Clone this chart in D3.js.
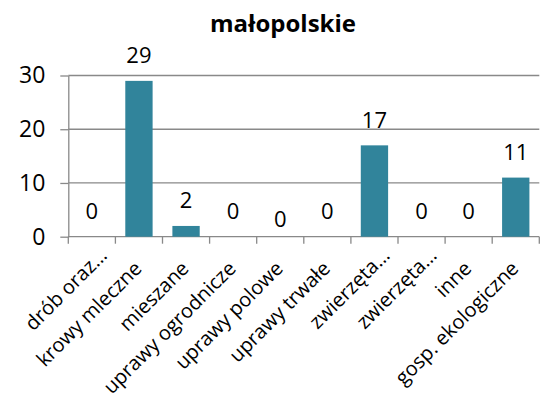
<!DOCTYPE html>
<html>
<head>
<meta charset="utf-8">
<script src="https://cdn.jsdelivr.net/npm/d3@7"></script>
<style>
  body { margin: 0; background: #fff; }
  svg { display: block; font-family: "Open Sans", sans-serif; }
</style>
</head>
<body>
<svg width="542" height="402"></svg>
<script>
const title = "małopolskie";
const categories = ["drób oraz…", "krowy mleczne", "mieszane", "uprawy ogrodnicze", "uprawy polowe",
  "uprawy trwałe", "zwierzęta…", "zwierzęta…", "inne", "gosp. ekologiczne"];
const values = [0, 29, 2, 0, 0, 0, 17, 0, 0, 11];
const yTicks = [0, 10, 20, 30];

const svg = d3.select("svg");
const plotL = 68.3, plotR = 539.3, plotT = 75.5, plotB = 236.7;
const grey = "#898989";

svg.append("rect").attr("width", 542).attr("height", 402).attr("fill", "#fff");

// band index used for scale (duplicate labels)
const x = d3.scaleBand()
  .domain(d3.range(categories.length))
  .range([plotL, plotR])
  .paddingInner(0.42)
  .paddingOuter(0.21);

const y = d3.scaleLinear().domain([0, 30]).range([plotB, plotT]);

// gridlines
svg.append("g")
  .selectAll("line")
  .data(yTicks.filter(t => t > 0))
  .join("line")
  .attr("x1", plotL).attr("x2", plotR)
  .attr("y1", d => y(d)).attr("y2", d => y(d))
  .attr("stroke", grey).attr("stroke-width", 1.3);

// y axis
const yAxis = svg.append("g")
  .attr("transform", `translate(${plotL},0)`)
  .call(d3.axisLeft(y).tickValues(yTicks).tickSize(8).tickSizeOuter(0).tickPadding(15));
yAxis.select(".domain").attr("stroke", grey).attr("stroke-width", 1.3);
yAxis.selectAll(".tick line").attr("stroke", grey).attr("stroke-width", 1.3);
yAxis.selectAll(".tick text").attr("font-size", 23).attr("fill", "#000")
  .attr("font-family", "Open Sans, sans-serif");

// x axis line and boundary ticks
svg.append("line")
  .attr("x1", plotL).attr("x2", plotR)
  .attr("y1", plotB).attr("y2", plotB)
  .attr("stroke", grey).attr("stroke-width", 1.3);

svg.append("g")
  .selectAll("line")
  .data(d3.range(categories.length + 1))
  .join("line")
  .attr("x1", i => plotL + i * x.step()).attr("x2", i => plotL + i * x.step())
  .attr("y1", plotB).attr("y2", plotB + 7)
  .attr("stroke", grey).attr("stroke-width", 1.3);

// bars
svg.append("g")
  .selectAll("rect")
  .data(values)
  .join("rect")
  .attr("x", (d, i) => x(i))
  .attr("width", x.bandwidth())
  .attr("y", d => y(d))
  .attr("height", d => plotB - y(d))
  .attr("fill", "#31849b");

// data labels (Excel nudged the one for "uprawy polowe" down)
svg.append("g")
  .selectAll("text")
  .data(values)
  .join("text")
  .attr("x", (d, i) => x(i) + x.bandwidth() / 2)
  .attr("y", (d, i) => y(d) - 17.5 + (i === 4 ? 8 : 0))
  .attr("text-anchor", "middle")
  .attr("font-size", 22)
  .text(d => d);

// category labels, truncated ones sit further up the diagonal
svg.append("g")
  .selectAll("text")
  .data(categories)
  .join("text")
  .attr("transform", (d, i) => {
    const cut = d.endsWith("…");
    const px = x(i) + x.bandwidth() / 2 + 4 + (cut ? 12.5 : 0);
    const py = plotB + 33 - (cut ? 13 : 0);
    return `translate(${px},${py}) rotate(-45)`;
  })
  .attr("text-anchor", "end")
  .attr("font-size", 20)
  .text(d => d);

// title
svg.append("text")
  .attr("x", 283).attr("y", 32)
  .attr("text-anchor", "middle")
  .attr("font-size", 24)
  .attr("font-weight", "bold")
  .text(title);
</script>
</body>
</html>
